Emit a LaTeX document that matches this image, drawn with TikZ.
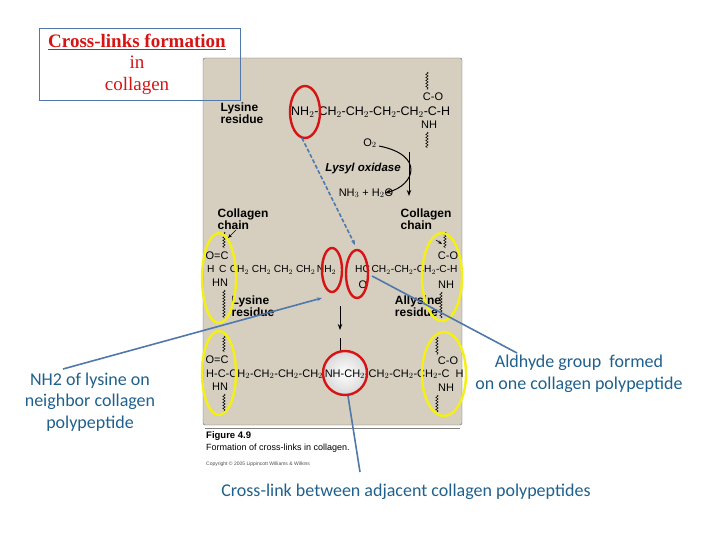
\documentclass[tikz,border=0pt]{standalone}
\usepackage{fontspec}
\setmainfont{Carlito}
\newfontfamily\chemf{Liberation Sans}
\newfontfamily\titf{Liberation Serif}
\usetikzlibrary{decorations.pathmorphing,arrows.meta}
\definecolor{panel}{RGB}{214,207,192}
\definecolor{annot}{RGB}{31,96,140}
\definecolor{lnk}{RGB}{80,120,170}
\definecolor{ylw}{RGB}{245,240,20}
\definecolor{rd}{RGB}{215,20,20}
\begin{document}
\begin{tikzpicture}[x=1pt,y=-1pt,
  ch/.style={font=\chemf\fontsize{11}{11}\selectfont, inner sep=0pt},
  chs/.style={font=\chemf\fontsize{10.2}{10}\selectfont, inner sep=0pt},
  lab/.style={font=\chemf\bfseries\fontsize{12}{10.5}\selectfont, align=left, inner sep=0pt},
  ann/.style={font=\fontsize{18}{21.5}\selectfont, text=annot, align=center},
  yel/.style={draw=ylw, line width=2.4pt},
  red/.style={draw=rd, line width=2.4pt},
  wavy/.style={decorate, decoration={snake, amplitude=1.2pt, segment length=3pt}, line width=0.5pt},
  link/.style={draw=lnk, line width=1.6pt},
  blk/.style={-{Stealth[length=6pt]}, line width=1pt}]
\useasboundingbox (0,0) rectangle (720,540);
% panel
\fill[panel, draw=black!60, rounded corners=2pt] (203,58) rectangle (462,425);
\draw[black!50, line width=1pt] (205,428) -- (460,428);
\node[anchor=west, font=\chemf\bfseries\fontsize{9.5}{9}\selectfont, inner sep=0] (fig) at (206,436) {Figure 4.9};
\node[anchor=west, font=\chemf\fontsize{9}{9}\selectfont, inner sep=0] (cap) at (206,448) {Formation of cross-links in collagen.};
\node[anchor=west, font=\chemf\fontsize{5}{5}\selectfont, inner sep=0, text=black!70] (copy) at (206,464) {Copyright \copyright\ 2005 Lippincott Williams \& Wilkins};
% title
\node[draw=lnk, minimum width=201pt, minimum height=72pt, anchor=north west, inner sep=0] (tbox) at (39,28) {};
\node[font=\titf\fontsize{19}{21.5}\selectfont, text=rd, align=center] (title) at (137,64) {\textbf{\underline{Cross-links formation}}\\in\\collagen};
% lysine row
\node[lab] (lysl) at (242,113) {Lysine\\residue};
\node[ch, anchor=west, font=\chemf\fontsize{12.5}{12}\selectfont] (row1) at (291,112) {NH$_2$-CH$_2$-CH$_2$-CH$_2$-CH$_2$-C-H};
\node[ch] (co1) at (433,97) {C-O};
\node[ch] (nh1) at (429,125) {NH};
\draw[wavy] (427,72) -- (427,90);
\draw[wavy] (427,132) -- (427,148);
\node[ch] (o2) at (370,143) {O$_2$};
\node[font=\chemf\bfseries\itshape\fontsize{11.5}{10}\selectfont, inner sep=0] (lox) at (363,169) {Lysyl oxidase};
\node[ch] (nh3) at (366,193) {NH$_3$ + H$_2$O};
\draw[blk] (409,152) -- (409,196);
\draw[blk] (379,146) .. controls (425,155) and (415,185) .. (385,193);
% collagen chain labels
\node[lab] (cc1) at (243,219) {Collagen\\chain};
\node[lab] (cc2) at (426,219) {Collagen\\chain};
\draw[-{Stealth[length=4pt]}, line width=0.6pt] (236,230) -- (228,238);
\draw[-{Stealth[length=4pt]}, line width=0.6pt] (436,240) -- (442,244);
% row 2
\draw[wavy] (224,232) -- (224,248);
\node[ch] (oc2) at (217,256) {O=C};
\node[chs, anchor=west] (row2a) at (207,270) {H\ \,C\,\,CH$_2$ CH$_2$ CH$_2$ CH$_2$\,NH$_2$};
\node[ch] (hn2) at (220,283) {HN};
\draw[wavy] (224,290) -- (224,318);
\node[lab] (lysl2) at (253,306) {Lysine\\residue};
\node[chs, anchor=west] (row2b) at (355,270) {HC\,CH$_2$-CH$_2$-CH$_2$-C-H};
\node[ch] (oxo) at (363,285) {O};
\node[ch] (co2) at (448,256) {C-O};
\node[ch] (nh2) at (446,285) {NH};
\draw[wavy] (445,232) -- (445,248);
\draw[wavy] (441,292) -- (441,318);
\node[lab] (ally) at (418,306) {Allysine\\residue};
\draw[blk] (340,306) -- (340,330);
\draw[blk] (340,338) -- (340,363);
% row 3
\draw[wavy] (224,336) -- (224,352);
\node[ch] (oc3) at (217,360) {O=C};
\node[ch] (hn3) at (220,387) {HN};
\draw[wavy] (224,394) -- (224,412);
\shade[inner color=white, outer color=white!85!black] (345,373) circle (22);
\node[ch, anchor=west] (row3) at (206,374) {H-C-CH$_2$-CH$_2$-CH$_2$-CH$_2$\,NH-CH$_2$-CH$_2$-CH$_2$-CH$_2$-C\ \ H};
\node[ch] (co3) at (448,361) {C-O};
\node[ch] (nh3b) at (446,388) {NH};
\draw[wavy] (437,337) -- (437,355);
\draw[wavy] (437,395) -- (437,412);
% ellipses
\draw[red] (305,112) ellipse (15 and 26);
\draw[red] (332,270) ellipse (10 and 22);
\draw[red] (357,274) ellipse (11 and 24);
\draw[red] (345,373) circle (22);
\draw[yel] (219,278) ellipse (17 and 45);
\draw[yel] (442,277) ellipse (20 and 44);
\draw[yel] (219,373) ellipse (17 and 42);
\draw[yel] (444,374) ellipse (22 and 42);
% annotations
\node[ann] (a1) at (90,402) {NH2 of lysine on\\neighbor collagen\\polypeptide};
\node[ann] (a2) at (579,374) {Aldhyde group\ \ formed\\on one collagen polypeptide};
\node[ann] (a3) at (406,492) {Cross-link between adjacent collagen polypeptides};
\coordinate (p1) at (63,369); \coordinate (q1) at (322,298);
\coordinate (p2) at (517,353); \coordinate (q2) at (372,276);
\coordinate (p3) at (360,472); \coordinate (q3) at (348,396);
\coordinate (p4) at (302,138); \coordinate (q4) at (355,245);
\draw[link, -{Stealth[length=5pt]}] (p1) -- (q1);
\draw[link] (p2) -- (q2);
\draw[link] (p3) -- (q3);
\draw[link, dashed, dash pattern=on 4pt off 2pt, -{Stealth[length=5pt]}] (p4) -- (q4);
\end{tikzpicture}
\end{document}
